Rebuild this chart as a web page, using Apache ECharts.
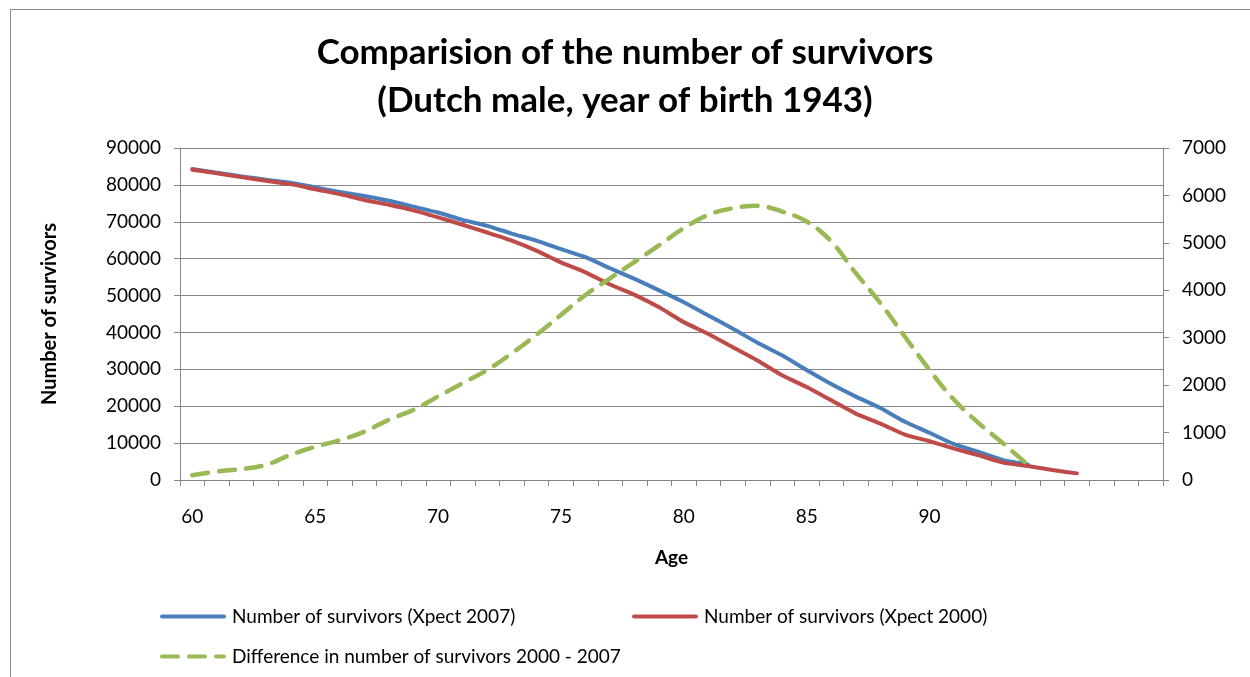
<!DOCTYPE html>
<html>
<head>
<meta charset="UTF-8">
<title>Comparision of the number of survivors</title>
<script type="text/javascript" src="https://cdn.jsdelivr.net/npm/echarts@6/dist/echarts.min.js"></script>
<style>
  html, body { margin: 0; padding: 0; background: #fff; }
  #frame { position: absolute; left: 10px; top: 9px; width: 1250px; height: 700px; border-left: 1px solid #8c8c8c; border-top: 1px solid #8c8c8c; }
  #main { position: absolute; left: 0; top: 0; width: 1250px; height: 677px; }
</style>
</head>
<body>
<div id="frame"></div>
<div id="main"></div>
<script type="text/javascript">
// ages on the category axis
var ages = ['60','61','62','63','64','65','66','67','68','69',
            '70','71','72','73','74','75','76','77','78','79',
            '80','81','82','83','84','85','86','87','88','89',
            '90','91','92','93','94','95','96','97','98','99'];
// labels that Excel shows on the axis
var tickLabels = ['60','65','70','75','80','85','90'];

// Number of survivors (Xpect 2007)
var xpect2007 = [84300, 83300, 82300, 81400, 80600, 79300, 78100, 77000, 75700, 74100,
                 72500, 70500, 68900, 66800, 64900, 62600, 60400, 57400, 54500, 51400,
                 48200, 44600, 41000, 37200, 33800, 29800, 26000, 22600, 19500, 15800,
                 12800, 9700, 7600, 5400, 4200];
// Number of survivors (Xpect 2000)
var xpect2000 = [84100, 83150, 82100, 81100, 80200, 78800, 77500, 75900, 74600, 73100,
                 71200, 69200, 67100, 64900, 62200, 59000, 56300, 53000, 50200, 46800,
                 42800, 39600, 36000, 32400, 28400, 25200, 21600, 18000, 15300, 12300,
                 10500, 8500, 6700, 4700, 3800, 2700, 1800];
// Difference in number of survivors 2000 - 2007 (right axis)
var difference = [100, 180, 230, 320, 530, 700, 840, 1020, 1270, 1480,
                  1760, 2040, 2320, 2670, 3060, 3480, 3900, 4250, 4600, 4950,
                  5310, 5590, 5730, 5780, 5660, 5450, 5030, 4360, 3730, 3020,
                  2320, 1690, 1200, 770, 320];

var axisGrey = '#868686';
var font = 'Lato, "Liberation Sans", sans-serif';

function plain(v) { return String(v); }

function legendFor(name, left, top) {
    return {
        data: [name],
        left: left, top: top,
        padding: 0,
        itemWidth: 62, itemHeight: 14, itemGap: 0,
        itemStyle: {opacity: 0},
        lineStyle: {width: 4},
        textStyle: {fontFamily: font, fontSize: 19, color: '#000', padding: [0, 0, 0, 3]}
    };
}

var myChart = echarts.init(document.getElementById('main'), null, {renderer: 'canvas'});
myChart.setOption({
    backgroundColor: 'transparent',
    animation: false,
    title: {
        text: 'Comparision of the number of survivors\n(Dutch male, year of birth 1943)',
        left: 'center',
        top: 24,
        textStyle: {
            fontFamily: font,
            fontWeight: 'bold',
            fontSize: 35,
            lineHeight: 48,
            color: '#000'
        }
    },
    legend: [
        legendFor('Number of survivors (Xpect 2007)', 160, 607),
        legendFor('Number of survivors (Xpect 2000)', 632, 607),
        legendFor('Difference in number of survivors 2000 - 2007', 160, 647)
    ],
    grid: {
        left: 180,
        right: 87,
        top: 148,
        bottom: 197,
        containLabel: false
    },
    xAxis: {
        type: 'category',
        data: ages,
        boundaryGap: true,
        name: 'Age',
        nameLocation: 'middle',
        nameGap: 68,
        nameTextStyle: {fontFamily: font, fontWeight: 'bold', fontSize: 19, color: '#000'},
        axisLine: {lineStyle: {color: axisGrey, width: 1}},
        axisTick: {show: true, interval: 0, length: 6, lineStyle: {color: axisGrey}},
        axisLabel: {
            interval: 0,
            margin: 27,
            fontFamily: font,
            fontSize: 19,
            color: '#000',
            formatter: function (v) {
                return tickLabels.indexOf(v) >= 0 ? v : '';
            }
        },
        splitLine: {show: false}
    },
    yAxis: [
        {
            type: 'value',
            min: 0,
            max: 90000,
            interval: 10000,
            name: 'Number of survivors',
            nameLocation: 'middle',
            nameGap: 120,
            nameTextStyle: {fontFamily: font, fontWeight: 'bold', fontSize: 20, color: '#000'},
            axisLine: {show: true, lineStyle: {color: axisGrey, width: 1}},
            axisTick: {show: true, length: 6, lineStyle: {color: axisGrey}},
            axisLabel: {margin: 19, fontFamily: font, fontSize: 19, color: '#000', formatter: plain},
            splitLine: {show: true, lineStyle: {color: axisGrey, width: 1.2}}
        },
        {
            type: 'value',
            min: 0,
            max: 7000,
            interval: 1000,
            position: 'right',
            axisLine: {show: true, lineStyle: {color: axisGrey, width: 1}},
            axisTick: {show: true, length: 6, lineStyle: {color: axisGrey}},
            axisLabel: {margin: 19, fontFamily: font, fontSize: 19, color: '#000', formatter: plain},
            splitLine: {show: false}
        }
    ],
    series: [
        {
            name: 'Number of survivors (Xpect 2007)',
            type: 'line',
            yAxisIndex: 0,
            data: xpect2007,
            symbol: 'none',
            smooth: 0.2,
            itemStyle: {color: '#4a7ebb'},
            lineStyle: {color: '#4a7ebb', width: 4, cap: 'round', join: 'round'},
            z: 3
        },
        {
            name: 'Number of survivors (Xpect 2000)',
            type: 'line',
            yAxisIndex: 0,
            data: xpect2000,
            symbol: 'none',
            smooth: 0.2,
            itemStyle: {color: '#be4b48'},
            lineStyle: {color: '#be4b48', width: 4, cap: 'round', join: 'round'},
            z: 4
        },
        {
            name: 'Difference in number of survivors 2000 - 2007',
            type: 'line',
            yAxisIndex: 1,
            data: difference,
            symbol: 'none',
            smooth: 0.4,
            itemStyle: {color: '#98b954'},
            lineStyle: {color: '#98b954', width: 4.5, type: [16, 11], cap: 'round'},
            z: 5
        }
    ]
});
</script>
</body>
</html>
